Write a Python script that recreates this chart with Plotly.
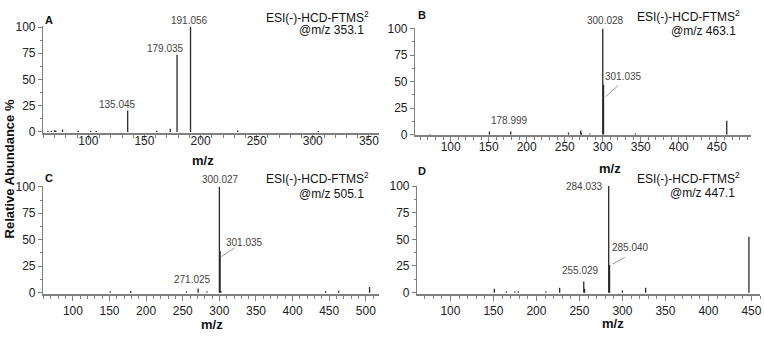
import plotly.graph_objects as go

# ---------------- data ----------------
# Panel A  (precursor m/z 353.1)
a_mz = [64, 67, 70, 71, 77, 91, 102, 107, 135.045, 161, 173, 179.035, 191.056, 233, 305]
a_int = [1.2, 1.0, 1.5, 1.0, 2.2, 1.0, 1.0, 0.8, 20.5, 1.2, 3.0, 73.5, 100, 1.3, 0.8]
a_labels = ["135.045", "179.035", "191.056"]
a_lab_x = [126.1, 168.4, 189.7]
a_lab_y = [26.0, 79.8, 106.1]

# Panel B  (precursor m/z 463.1)
b_mz = [73, 151, 178.999, 255, 271, 272, 283, 300.028, 301.035, 343, 463.1]
b_int = [0.5, 2.8, 2.8, 1.8, 3.8, 1.5, 1.0, 100, 47, 1.0, 13]
b_labels = ["300.028", "301.035", "178.999"]
b_lab_x = [303.5, 327.8, 178.0]
b_lab_y = [107.6, 54.5, 13.1]
b_lead = [(303.8, 35.8), (320.4, 46.4)]

# Panel C  (precursor m/z 505.1)
c_mz = [151, 179, 255, 271.025, 283, 300.027, 301.035, 302, 445, 463, 505.1]
c_int = [1.0, 1.5, 1.0, 3.9, 1.0, 100, 39, 1.5, 1.5, 1.8, 5.4]
c_labels = ["300.027", "301.035", "271.025"]
c_lab_x = [301.0, 334.3, 263.5]
c_lab_y = [106.6, 47.7, 12.1]
c_lead = [(302.6, 34.1), (320.7, 42.2)]

# Panel D  (precursor m/z 447.1)
d_mz = [151, 165, 175, 179, 211, 227, 255.029, 256, 284.033, 285.040, 300, 327, 447.1]
d_int = [3.6, 1.0, 1.0, 1.2, 1.0, 4.5, 10.5, 3.6, 100, 26, 2.0, 4.5, 52.5]
d_labels = ["284.033", "285.040", "255.029"]
d_lab_x = [279.3, 308.9, 251.5]
d_lab_y = [100.0, 42.1, 21.0]
d_lead = [(289.0, 27.0), (302.9, 33.1)]

precursors = ["353.1", "463.1", "505.1", "447.1"]
panel_letters = ["A", "B", "C", "D"]
y_ticks = [0, 25, 50, 75, 100]
x_ticks = [100, 150, 200, 250, 300, 350, 400, 450, 500]

# ---------------- layout geometry ----------------
W, H = 764, 337
FONT = "Liberation Sans, Arial, sans-serif"
GRAY = "#808080"

panels = [
    dict(mz=a_mz, it=a_int, lab=a_labels, lx=a_lab_x, ly=a_lab_y, lead=None, anchor_lab=["center"] * 3,
         xpx=(43, 380), ypx=(20, 131), xr=[59.5, 359], yr=[-1.0, 100.8], standoff=-9),
    dict(mz=b_mz, it=b_int, lab=b_labels, lx=b_lab_x, ly=b_lab_y, lead=b_lead, anchor_lab=["center"] * 3,
         xpx=(416, 753), ypx=(22, 133.5), xr=[53, 495], yr=[-0.8, 100.5], standoff=-6),
    dict(mz=c_mz, it=c_int, lab=c_labels, lx=c_lab_x, ly=c_lab_y, lead=c_lead, anchor_lab=["center"] * 3,
         xpx=(43, 380), ypx=(186, 298), xr=[59, 518], yr=[-0.8, 100.9], standoff=0),
    dict(mz=d_mz, it=d_int, lab=d_labels, lx=d_lab_x, ly=d_lab_y, lead=d_lead, anchor_lab=["right", "center", "center"],
         xpx=(418, 762), ypx=(186, 298), xr=[61, 460], yr=[-0.8, 100.2], standoff=0),
]

fig = go.Figure()
annotations = []
shapes = []
layout_axes = {}

for i, p in enumerate(panels):
    n = "" if i == 0 else str(i + 1)
    xa, ya = "x" + n, "y" + n
    xs, ys = [], []
    for m, v in zip(p["mz"], p["it"]):
        xs += [m, m, None]
        ys += [0, v, None]
    fig.add_trace(go.Scatter(x=xs, y=ys, mode="lines", xaxis=xa, yaxis=ya,
                             line=dict(color="#2a2a2a", width=1.3), hoverinfo="skip",
                             showlegend=False, cliponaxis=False))
    x0, x1 = p["xpx"][0] / W, p["xpx"][1] / W
    y0, y1 = 1 - p["ypx"][1] / H, 1 - p["ypx"][0] / H
    layout_axes["xaxis" + n] = dict(
        domain=[x0, x1], range=p["xr"], anchor=ya, showgrid=False, zeroline=False,
        showline=True, linecolor=GRAY, linewidth=2, ticks="outside", ticklen=5,
        tickcolor=GRAY, tickwidth=1, tickvals=x_ticks, ticklabelstandoff=p["standoff"],
        tickfont=dict(family=FONT, size=12, color="#222"),
        minor=dict(dtick=10, ticks="outside", ticklen=3, tickcolor=GRAY, tickwidth=1, showgrid=False),
    )
    layout_axes["yaxis" + n] = dict(
        domain=[y0, y1], range=p["yr"], anchor=xa, showgrid=False, zeroline=False,
        showline=True, linecolor=GRAY, linewidth=1, ticks="outside", ticklen=4,
        tickcolor=GRAY, tickvals=y_ticks,
        tickfont=dict(family=FONT, size=12, color="#222"),
        minor=dict(dtick=12.5, ticks="outside", ticklen=2, tickcolor=GRAY, showgrid=False),
    )
    xr0, xr1 = p["xr"]
    yr0, yr1 = p["yr"]
    # peak labels (positioned in axis-domain units so labels above the range still show)
    for t, lx, ly, anc in zip(p["lab"], p["lx"], p["ly"], p["anchor_lab"]):
        annotations.append(dict(x=(lx - xr0) / (xr1 - xr0), y=(ly - yr0) / (yr1 - yr0),
                                xref=xa + " domain", yref=ya + " domain", text=t, showarrow=False,
                                xanchor=anc, yanchor="middle",
                                font=dict(family=FONT, size=10, color="#444")))
    if p["lead"]:
        (lx0, ly0), (lx1, ly1) = p["lead"]
        shapes.append(dict(type="line", xref=xa, yref=ya, x0=lx0, y0=ly0, x1=lx1, y1=ly1,
                           line=dict(color="#999", width=1)))

# panel letters, instrument text, x titles (pixel positions)
letter_pos = [(43, 14), (417, 8), (43, 178), (417, 171)]
esi_pos = [(372, 10, 367, 24), (744, 9, 740, 25), (372, 178, 367, 194), (744, 178, 739, 193)]
mz_title_pos = [(204, 160), (612, 168), (213, 330), (615, 329)]
for i in range(4):
    lx, ly = letter_pos[i]
    annotations.append(dict(x=lx / W, y=1 - ly / H, xref="paper", yref="paper", text="<b>%s</b>" % panel_letters[i],
                            showarrow=False, xanchor="left", yanchor="middle",
                            font=dict(family=FONT, size=11, color="#111")))
    ex1, ey1, ex2, ey2 = esi_pos[i]
    annotations.append(dict(x=ex1 / W, y=1 - ey1 / H, xref="paper", yref="paper",
                            text="ESI(-)-HCD-FTMS<sup>2</sup>", showarrow=False, xanchor="right", yanchor="middle",
                            font=dict(family=FONT, size=12, color="#111")))
    annotations.append(dict(x=ex2 / W, y=1 - ey2 / H, xref="paper", yref="paper",
                            text="@m/z " + precursors[i], showarrow=False, xanchor="right", yanchor="middle",
                            font=dict(family=FONT, size=12, color="#111")))
    tx, ty = mz_title_pos[i]
    annotations.append(dict(x=tx / W, y=1 - ty / H, xref="paper", yref="paper", text="<b>m/z</b>",
                            showarrow=False, xanchor="center", yanchor="middle",
                            font=dict(family=FONT, size=13, color="#111")))

annotations.append(dict(x=10 / W, y=1 - 168 / H, xref="paper", yref="paper",
                        text="<b>Relative Abundance %</b>", textangle=-90, showarrow=False,
                        xanchor="center", yanchor="middle",
                        font=dict(family=FONT, size=13, color="#111")))

fig.update_layout(
    width=W, height=H, margin=dict(l=0, r=0, t=0, b=0),
    paper_bgcolor="white", plot_bgcolor="white",
    annotations=annotations, shapes=shapes, showlegend=False,
    **layout_axes,
)
fig.write_html("out.html")
